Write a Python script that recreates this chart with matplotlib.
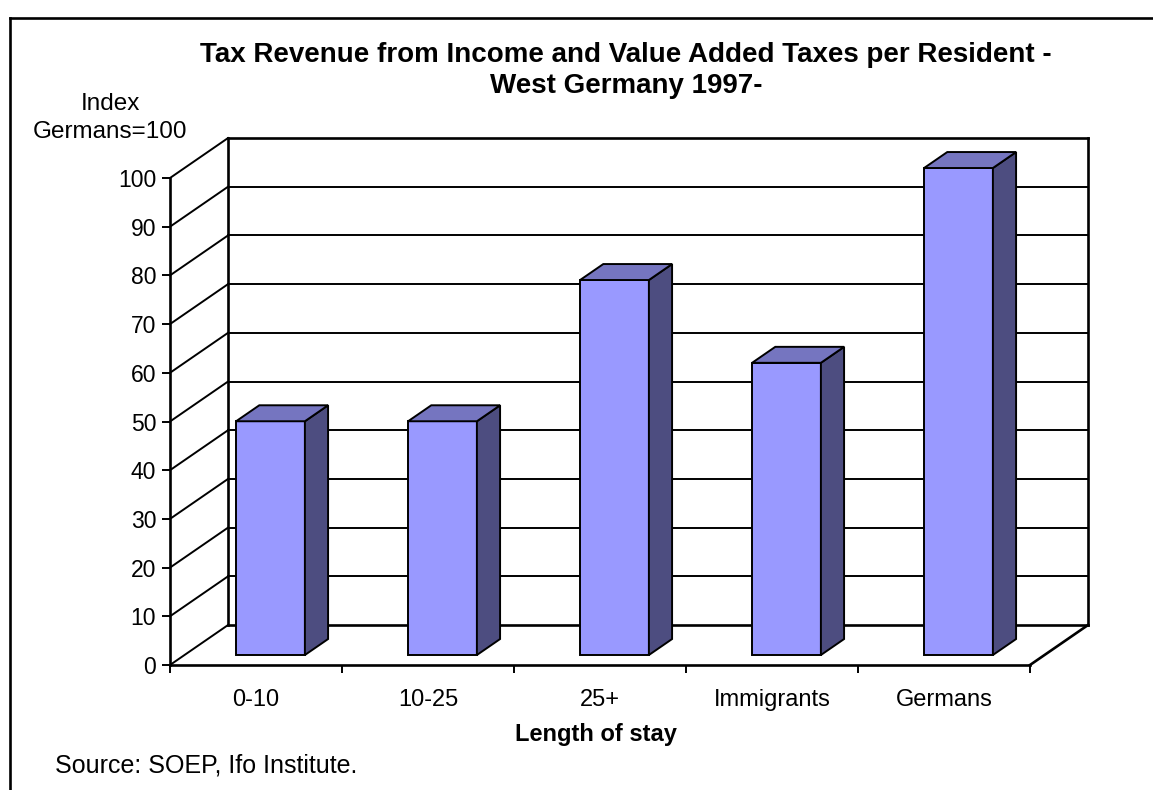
import matplotlib
matplotlib.use("Agg")
import matplotlib.pyplot as plt
from matplotlib.patches import Polygon
from matplotlib.lines import Line2D

plt.rcParams['font.family'] = ['Liberation Sans', 'DejaVu Sans']

categories = ['0-10', '10-25', '25+', 'Immigrants', 'Germans']
values = [48, 48, 77, 60, 100]
yticks = list(range(0, 101, 10))

# depth vector of the box (data units) and bar placement
DX, DY = 0.337, 8.2
bar_w = 0.4
d0, d1 = 0.25, 0.65

front = '#9999FF'
side = '#4D4D80'
top = '#7575C0'

W, H = 1153, 790
fig = plt.figure(figsize=(W / 100, H / 100), dpi=100)
ax = fig.add_axes([170 / W, 1 - 665 / H, 860 / W, 487 / H])
ax.set_xlim(0, len(categories))
ax.set_ylim(0, 100)
n = len(categories)


def off(x, y, f):
    return (x + f * DX, y + f * DY)


def line(pts, lw=1.4, z=1):
    xs, ys = zip(*pts)
    ax.plot(xs, ys, color='black', lw=lw, solid_capstyle='projecting',
            clip_on=False, zorder=z)


# back wall outline, gridlines and side wall diagonals
for v in yticks:
    line([off(0, v, 1), off(n, v, 1)], lw=1.4 if v not in (0, 100) else 1.9)
    line([(0, v), off(0, v, 1)])
line([off(0, 0, 1), off(0, 100, 1)], lw=1.9)
line([off(n, 0, 1), off(n, 100, 1)], lw=1.9)
# floor
line([(n, 0), off(n, 0, 1)], lw=1.9)

# bars
for i, v in enumerate(values):
    x0 = i + 0.5 - bar_w / 2
    x1 = x0 + bar_w
    fl = off(x0, 0, d0)
    fr = off(x1, 0, d0)
    tl = off(x0, v, d0)
    tr = off(x1, v, d0)
    ax.add_patch(Polygon([fl, fr, tr, tl], closed=True, facecolor=front,
                         edgecolor='black', lw=1.4, clip_on=False, zorder=3))
    ax.add_patch(Polygon([fr, off(x1, 0, d1), off(x1, v, d1), tr], closed=True,
                         facecolor=side, edgecolor='black', lw=1.4,
                         clip_on=False, zorder=3))
    ax.add_patch(Polygon([tl, tr, off(x1, v, d1), off(x0, v, d1)], closed=True,
                         facecolor=top, edgecolor='black', lw=1.4,
                         clip_on=False, zorder=3))

for s in ['top', 'right']:
    ax.spines[s].set_visible(False)
for s in ['left', 'bottom']:
    ax.spines[s].set_linewidth(1.9)
    ax.spines[s].set_zorder(5)
ax.patch.set_visible(False)

ax.set_yticks(yticks)
ax.tick_params(axis='y', direction='out', length=6, width=1.4, pad=4,
               labelsize=16.5)
ax.set_xticks(range(n + 1))
ax.set_xticklabels([])
ax.tick_params(axis='x', which='major', direction='out', length=6, width=1.4)
ax.set_xticks([i + 0.5 for i in range(n)], minor=True)
ax.set_xticklabels(categories, minor=True)
ax.tick_params(axis='x', which='minor', length=0, pad=17, labelsize=17)


def ftext(x, y, s, **kw):
    fig.text(x / W, 1 - y / H, s, va='center', **kw)


ftext(596, 735, 'Length of stay', ha='center', fontsize=17, fontweight='bold')
ftext(110, 104, 'Index', ha='center', fontsize=17.5)
ftext(110, 132, 'Germans=100', ha='center', fontsize=17.5)
ftext(626, 55, 'Tax Revenue from Income and Value Added Taxes per Resident -',
      ha='center', fontsize=20, fontweight='bold')
ftext(626, 86, 'West Germany 1997-', ha='center', fontsize=20,
      fontweight='bold')
ftext(55, 766, 'Source: SOEP, Ifo Institute.', ha='left', fontsize=18)

# outer frame
fig.add_artist(Line2D([10 / W, 10 / W], [0, 1 - 18 / H], color='black', lw=1.9))
fig.add_artist(Line2D([10 / W, 1], [1 - 18 / H, 1 - 18 / H], color='black',
                      lw=1.9))

fig.savefig('out.png', dpi=100, facecolor='white')
